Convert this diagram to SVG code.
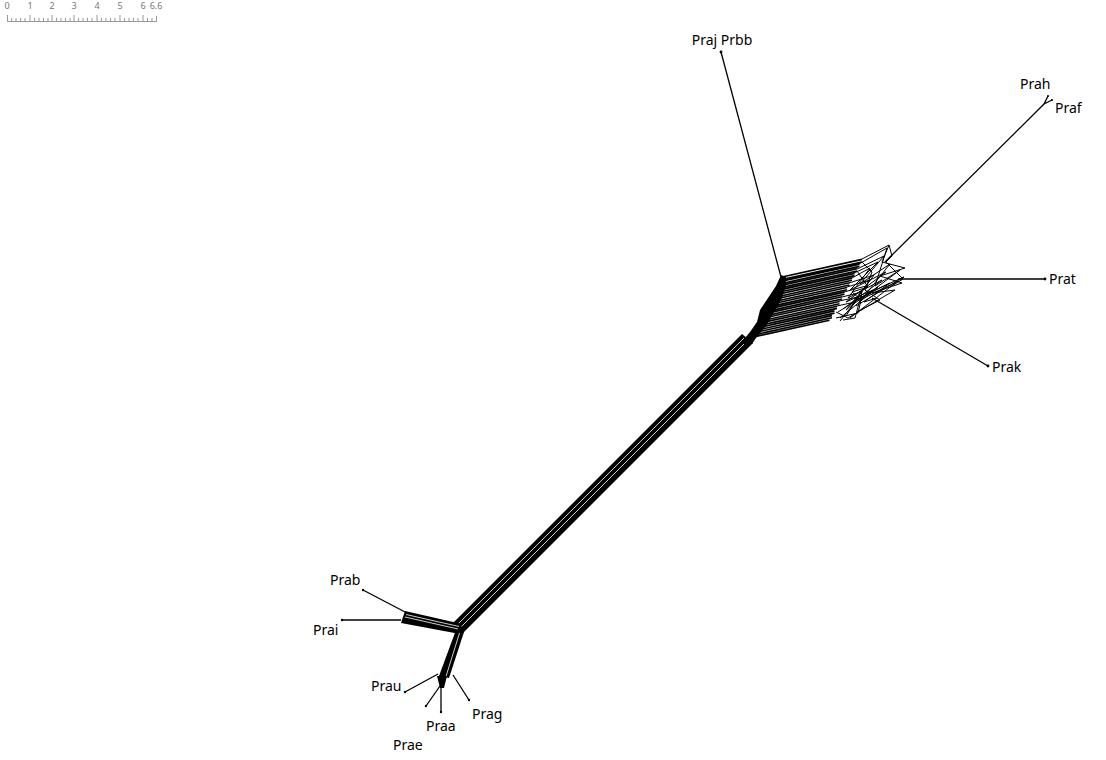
<svg xmlns="http://www.w3.org/2000/svg" width="1106" height="760" viewBox="0 0 1106 760">
<style>
.e{stroke:#000;fill:none;stroke-width:1.3}
.f{stroke:#000;fill:none;stroke-width:1.6}
.t{stroke:#000;fill:none;stroke-width:1}
.w{stroke:#fff;fill:none;stroke-width:0.8}
.lbl{font-family:"Noto Sans","Open Sans",sans-serif;font-size:14px;fill:#000}
.sc{font-family:"Noto Sans","Open Sans",sans-serif;font-size:9px;fill:#777}
.tick{stroke:#999;stroke-width:1;fill:none}
.dot{fill:#000}
</style>
<rect width="1106" height="760" fill="#fff"/>
<g id="scale">
<text class="sc" x="7" y="9" text-anchor="middle">0</text>
<text class="sc" x="30" y="9" text-anchor="middle">1</text>
<text class="sc" x="52" y="9" text-anchor="middle">2</text>
<text class="sc" x="74" y="9" text-anchor="middle">3</text>
<text class="sc" x="97" y="9" text-anchor="middle">4</text>
<text class="sc" x="120" y="9" text-anchor="middle">5</text>
<text class="sc" x="143" y="9" text-anchor="middle">6</text>
<text class="sc" x="156" y="9" text-anchor="middle">6.6</text>
<path class="tick" d="M7.5,21.5H156.5M7.5,15V22M30,15V22M52,15V22M74,15V22M97,15V22M120,15V22M143,15V22M156.5,16V22
M11.7,18V22M16,18V22M20.6,18V22M25,18V22M34.5,18V22M39,18V22M43.5,18V22M48,18V22M56.5,18V22M61,18V22M65.5,18V22M70,18V22M78.6,18V22M83,18V22M87.5,18V22M92,18V22M101.5,18V22M106,18V22M110.5,18V22M115,18V22M124.6,18V22M129,18V22M133.5,18V22M138,18V22M147.5,18V22M152,18V22"/>
</g>
<g id="connectors">
<polygon points="452,624 742,334 753,343 462,634" fill="#000"/>
<path class="w" d="M454.5,627.5L744,338M457.5,630.5L747,341"/>
<polygon points="405,611 462,624 460,634 401,623" fill="#000"/>
<path class="w" d="M406,614.5L459,626.5M405,617L458,629"/>
<polygon points="456,630 464,632 449,678 439,676" fill="#000"/>
<path class="w" d="M459.5,633L446,676.5"/>
<polygon points="437,676 447,676 444,688 440,688" fill="#000"/>
<polygon points="740,344 750,332 757,322 760,310 768,298 776,286 781,275 786,277 786,285 782,298 774,312 766,326 756,338 752,344" fill="#000"/>
<path class="f" d="M782,277L862,259.4M782,279.5L862,262
M779.4,281.7L859.5,264.1M779.4,284L859.5,266.4
M776.8,286.4L857,268.8M776.8,288.6L857,271
M774.2,291.1L854.5,273.4M774.2,293.3L854.5,275.6
M771.6,295.8L852,278.1M771.6,298L852,280.3
M769,300.5L849.5,282.8M769,302.7L849.5,285
M766.4,305.2L847,287.5M766.4,307.4L847,289.7
M763.8,309.9L844.5,292.1M763.8,312.1L844.5,294.3
M761.2,314.6L842,296.8M761.2,316.8L842,299
M758.6,319.3L839.5,301.5M758.6,321.5L839.5,303.7
M756,324L837,306.2M756,326.2L837,308.4
M753.4,328.7L834.5,310.9M753.4,330.9L834.5,313.1
M750.8,333.4L832,315.6M750.8,335.6L832,317.8
M748.2,338.1L829.5,320.3"/>
<path class="t" d="M862,259L889,245L882,262L905,268L880,276L902,283L872,293L895,290L868,306L848,318L836,312
M859,264L887,248L875,286L900,270L860,300L898,281L850,318
M857,269L884,256L860,284L890,264L866,294L904,277L856,306
M854,273L878,262L850,290L886,272L846,302L873,290L838,312
M852,278L870,268L848,298L882,280L843,309
M849,283L874,275L852,305L878,287L840,318
M847,287L870,280L856,300L890,283L864,302L877,298
M844,292L866,286L846,310L862,296L858,313L836,318
M842,297L862,292L855,318L843,320
M839,301L858,297L846,316
M837,306L855,302L840,321
M862,262L872,272L865,290L880,300L857,312
M857,271L868,287L852,292L861,300
M889,245L892,256L886,262L903,279L890,287"/>
<path class="e" d="M781,277L721,52"/>
<path class="e" d="M885,262L1044,104L1048,96M1044,104L1052,100"/>
<path d="M898,279L1045,279" stroke="#000" stroke-width="1.6"/>
<path class="e" d="M872,298L988,366"/>
<path class="e" d="M405,612L363,590"/>
<path class="e" d="M401,620L342,620"/>
<path class="e" d="M438,674L405,692"/>
<path class="e" d="M440,686L426,706"/>
<path class="e" d="M441,686L441,712"/>
<path class="e" d="M453,675L469,700"/>
</g>
<g id="nodes">
<circle class="dot" cx="721" cy="52" r="1.4"/>
<circle class="dot" cx="1048" cy="96" r="1"/>
<circle class="dot" cx="1052" cy="100" r="1"/>
<circle class="dot" cx="1045" cy="279" r="1.4"/>
<circle class="dot" cx="988" cy="366" r="1.4"/>
<circle class="dot" cx="363" cy="590" r="1.2"/>
<circle class="dot" cx="342" cy="620" r="1.2"/>
<circle class="dot" cx="405" cy="692" r="1.2"/>
<circle class="dot" cx="426" cy="706" r="1.2"/>
<circle class="dot" cx="441" cy="712" r="1.2"/>
<circle class="dot" cx="469" cy="700" r="1.2"/>
</g>
<g id="labels">
<text class="lbl" x="722" y="45" text-anchor="middle">Praj Prbb</text>
<text class="lbl" x="1020" y="89">Prah</text>
<text class="lbl" x="1055" y="113">Praf</text>
<text class="lbl" x="1049" y="284">Prat</text>
<text class="lbl" x="992" y="372">Prak</text>
<text class="lbl" x="330" y="585">Prab</text>
<text class="lbl" x="313" y="635">Prai</text>
<text class="lbl" x="371" y="691">Prau</text>
<text class="lbl" x="393" y="750">Prae</text>
<text class="lbl" x="426" y="731">Praa</text>
<text class="lbl" x="472" y="719">Prag</text>
</g>
</svg>
